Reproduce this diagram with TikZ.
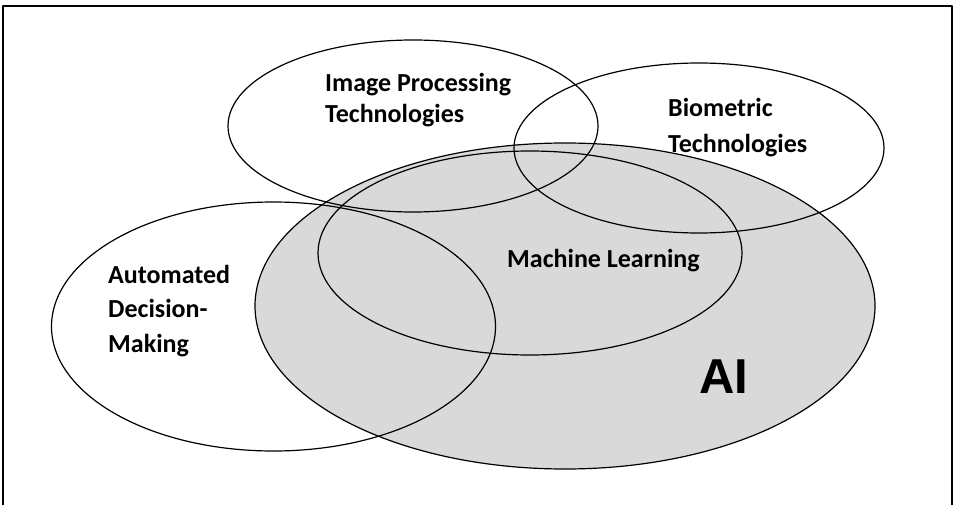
\documentclass[tikz,border=0pt]{standalone}
\usepackage{fontspec}
\setmainfont{Carlito}
\newfontfamily\aifont{Liberation Sans}
\begin{document}
\begin{tikzpicture}[line join=round, line cap=round, x=1pt, y=-1pt]
    \tikzset{set line/.style={line width=1.2pt},
             set label/.style={font=\bfseries\fontsize{26}{#1}\selectfont, align=left, anchor=base west, inner sep=0pt},
             set label/.default=33}
    \useasboundingbox (0,0) rectangle (957,505);
    \begin{scope}
        \clip (0,0) rectangle (957,505);
        \draw[line width=2pt] (3,6) rectangle (952,520);
    \end{scope}
    % the sets
    \draw[set line, fill=black!15] (565,306) ellipse (310 and 163);
    \draw[set line] (530,253) ellipse (212 and 102);
    \draw[set line] (413,126) ellipse (185 and 86);
    \draw[set line] (699,148) ellipse (185 and 85);
    \draw[set line] (273.5,326.5) ellipse (222 and 124.5);
    % labels (anchored at the baseline of the last line)
    \node[set label=31] (imgproc) at (325,123) {Image Processing\\Technologies};
    \node[set label=36] (biometric) at (668,153) {Biometric\\Technologies};
    \node[set label=34.5] (adm) at (108,352) {Automated\\Decision-\\Making};
    \node[set label] (ml) at (507,267) {Machine Learning};
    \node[font=\aifont\bfseries\fontsize{49}{55}\selectfont, anchor=base west, inner sep=0pt] (ai) at (699,393) {AI};
\end{tikzpicture}
\end{document}
